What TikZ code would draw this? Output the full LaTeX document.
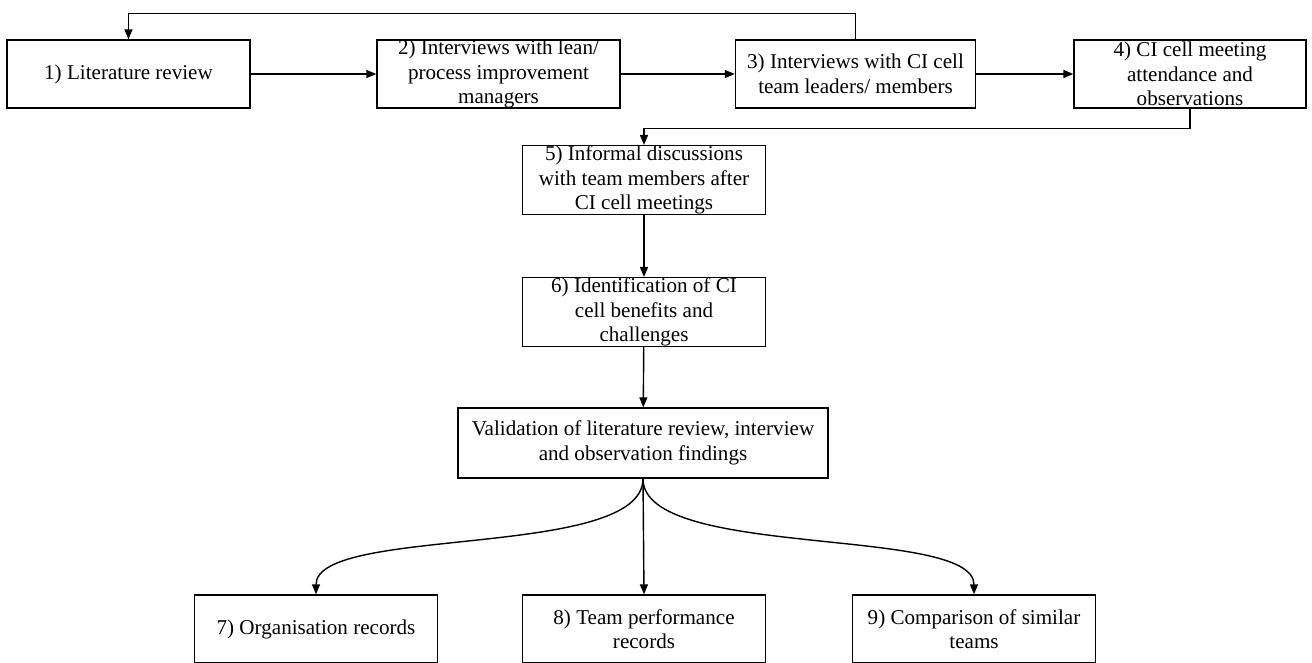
\documentclass[tikz,border=0pt]{standalone}
\usepackage{fontspec}
\setmainfont{Liberation Serif}
\usepackage{tikz}
\usetikzlibrary{arrows.meta,positioning,calc}

\tikzset{
    box/.style={draw, line width=0.8pt, minimum width=4.86cm, minimum height=1.36cm,
        inner sep=0pt, align=center, font=\fontsize{12}{14}\selectfont},
    arr/.style={line width=0.8pt, -{Triangle[length=2mm,width=1.6mm]}}
}

\begin{document}
\begin{tikzpicture}
    \useasboundingbox (0,0) rectangle (26.24,-13.26);

    % Top row
    \node[box] (lit) at (2.57,-1.48) {1) Literature review};
    \node[box] (mgr) at (9.97,-1.48) {2) Interviews with lean/\\process improvement\\managers};
    \node[box, minimum width=4.8cm] (team) at (17.11,-1.48) {3) Interviews with CI cell\\team leaders/ members};
    \node[box, minimum width=4.64cm] (obs) at (23.8,-1.48) {4) CI cell meeting\\attendance and\\observations};

    % Middle column
    \node[box] (disc) at (12.88,-3.6) {5) Informal discussions\\with team members after\\CI cell meetings};
    \node[box] (ident) at (12.88,-6.24) {6) Identification of CI\\cell benefits and\\challenges};
    \node[box, minimum width=7.4cm, minimum height=1.4cm] (valid) at (12.86,-8.86)
        {Validation of literature review, interview\\and observation findings};

    % Bottom row
    \node[box] (org) at (6.32,-12.58) {7) Organisation records};
    \node[box] (perf) at (12.88,-12.58) {8) Team performance\\records};
    \node[box] (comp) at (19.48,-12.58) {9) Comparison of similar\\teams};

    % Connectors
    \draw[arr] (lit) -- (mgr);
    \draw[arr] (mgr) -- (team);
    \draw[arr] (team) -- (obs);
    \draw[arr] (team.north) -- ++(0,0.52) -| (lit.north);
    \draw[arr] (obs.south) -- ++(0,-0.4) -| (disc.north);
    \draw[arr] (disc) -- (ident);
    \draw[arr] (ident) -- (valid);

    % Branches
    \draw[arr] (valid.south) .. controls (12.86,-11.2) and (6.32,-10.5) .. (org.north);
    \draw[arr] (valid.south) -- (perf.north);
    \draw[arr] (valid.south) .. controls (12.86,-11.2) and (19.48,-10.5) .. (comp.north);
\end{tikzpicture}
\end{document}
